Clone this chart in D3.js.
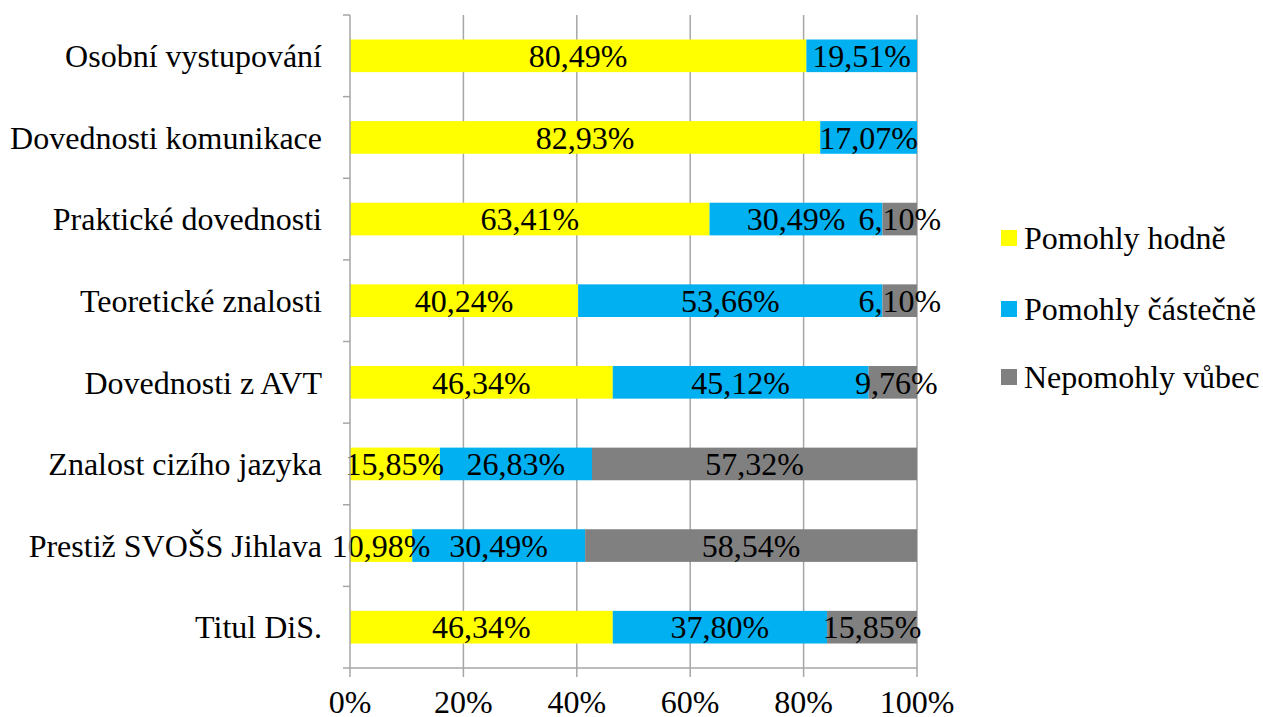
<!DOCTYPE html>
<html>
<head>
<meta charset="utf-8">
<script src="https://cdn.jsdelivr.net/npm/d3@7"></script>
<style>
  body { margin: 0; background: #fff; }
</style>
</head>
<body>
<svg id="chart" width="1263" height="717"></svg>
<script>
// categories, top to bottom
const categories = [
  "Osobní vystupování",
  "Dovednosti komunikace",
  "Praktické dovednosti",
  "Teoretické znalosti",
  "Dovednosti z AVT",
  "Znalost cizího jazyka",
  "Prestiž SVOŠS Jihlava",
  "Titul DiS."
];

const seriesNames = ["Pomohly hodně", "Pomohly částečně", "Nepomohly vůbec"];
const seriesColors = ["#ffff00", "#00b0f0", "#808080"];

const pomohlyHodne    = [80.49, 82.93, 63.41, 40.24, 46.34, 15.85, 10.98, 46.34];
const pomohlyCastecne = [19.51, 17.07, 30.49, 53.66, 45.12, 26.83, 30.49, 37.80];
const nepomohlyVubec  = [0, 0, 6.10, 6.10, 9.76, 57.32, 58.54, 15.85];

const xTicks = [0, 20, 40, 60, 80, 100];

const fontFamily = "'Liberation Serif', monospace";
const fontSize = "32px";

// every text gets the font set on itself
function label(sel) {
  return sel.style("font-family", fontFamily).style("font-size", fontSize).attr("fill", "#000");
}

const svg = d3.select("#chart");
const plotLeft = 350, plotRight = 917, plotTop = 15, plotBottom = 668;

// axis max is 100 %, anything past it is cut off like in the original
const x = d3.scaleLinear().domain([0, 100]).range([plotLeft, plotRight]).clamp(true);
const y = d3.scaleBand().domain(categories).range([plotTop, plotBottom]).paddingInner(0.6).paddingOuter(0.3);

const rows = categories.map((c, i) => ({
  cat: c, s0: pomohlyHodne[i], s1: pomohlyCastecne[i], s2: nepomohlyVubec[i]
}));
const keys = ["s0", "s1", "s2"];
const stack = d3.stack().keys(keys)(rows);

// gridlines
svg.append("g").selectAll("line")
  .data(xTicks.slice(1))
  .join("line")
  .attr("x1", d => x(d)).attr("x2", d => x(d))
  .attr("y1", plotTop).attr("y2", plotBottom)
  .attr("stroke", "#a6a6a6").attr("stroke-width", 1.5);

// bars
stack.forEach((layer, k) => {
  svg.append("g").selectAll("rect")
    .data(layer.filter(d => d[1] - d[0] > 0))
    .join("rect")
    .attr("x", d => x(d[0]))
    .attr("width", d => x(d[1]) - x(d[0]))
    .attr("y", d => y(d.data.cat))
    .attr("height", y.bandwidth())
    .attr("fill", seriesColors[k]);
});

// data labels
const xl = x.copy().clamp(false);
stack.forEach((layer, k) => {
  svg.append("g").selectAll("text")
    .data(layer.filter(d => d[1] - d[0] > 0))
    .join("text")
    .attr("x", d => (xl(d[0]) + xl(d[1])) / 2)
    .attr("y", d => y(d.data.cat) + y.bandwidth() / 2)
    .attr("dy", "0.35em")
    .attr("text-anchor", "middle")
    .call(label)
    .text(d => d.data[keys[k]].toFixed(2).replace(".", ",") + "%");
});

// y axis
const step = (plotBottom - plotTop) / categories.length;
const yAxis = svg.append("g");
yAxis.append("line")
  .attr("x1", plotLeft).attr("x2", plotLeft).attr("y1", plotTop).attr("y2", plotBottom)
  .attr("stroke", "#a6a6a6").attr("stroke-width", 1.5);
yAxis.selectAll("line.tick")
  .data(d3.range(categories.length + 1))
  .join("line").attr("class", "tick")
  .attr("x1", plotLeft - 7).attr("x2", plotLeft)
  .attr("y1", i => plotTop + i * step).attr("y2", i => plotTop + i * step)
  .attr("stroke", "#a6a6a6").attr("stroke-width", 1.5);
yAxis.selectAll("text")
  .data(categories)
  .join("text")
  .attr("x", plotLeft - 28)
  .attr("y", d => y(d) + y.bandwidth() / 2)
  .attr("dy", "0.35em")
  .attr("text-anchor", "end")
  .call(label)
  .text(d => d);

// x axis
const xAxis = svg.append("g");
xAxis.append("line")
  .attr("x1", plotLeft).attr("x2", plotRight).attr("y1", plotBottom).attr("y2", plotBottom)
  .attr("stroke", "#a6a6a6").attr("stroke-width", 1.5);
xAxis.selectAll("line.tick")
  .data(xTicks)
  .join("line").attr("class", "tick")
  .attr("x1", d => x(d)).attr("x2", d => x(d))
  .attr("y1", plotBottom).attr("y2", plotBottom + 9)
  .attr("stroke", "#a6a6a6").attr("stroke-width", 1.5);
xAxis.selectAll("text")
  .data(xTicks)
  .join("text")
  .attr("x", d => x(d))
  .attr("y", 713)
  .attr("text-anchor", "middle")
  .call(label)
  .text(d => d + "%");

// legend
const legendY = [238, 309, 377];
const legend = svg.append("g").selectAll("g")
  .data(seriesNames)
  .join("g")
  .attr("transform", (d, i) => `translate(1001, ${legendY[i]})`);
legend.append("rect")
  .attr("x", 0).attr("y", -8).attr("width", 16).attr("height", 16)
  .attr("fill", (d, i) => seriesColors[i]);
legend.append("text")
  .attr("x", 23).attr("y", 0).attr("dy", "0.35em")
  .call(label)
  .text(d => d);
</script>
</body>
</html>
